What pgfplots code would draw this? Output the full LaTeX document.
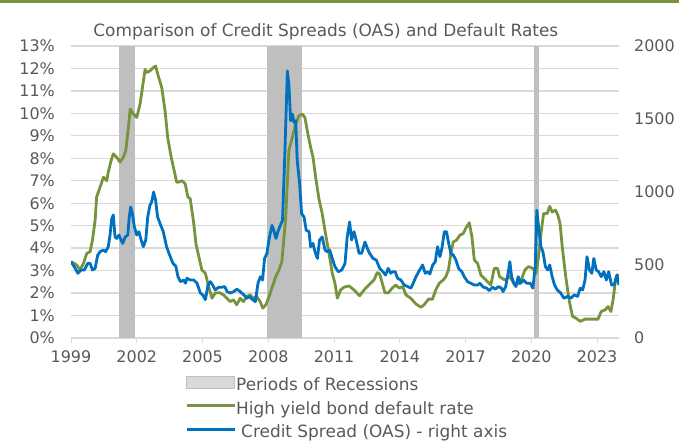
\documentclass[border=0pt]{standalone}
\usepackage{pgfplots}
\pgfplotsset{compat=1.18}
\usepackage{fontspec}
\setmainfont{DejaVu Sans}
\definecolor{hygreen}{HTML}{77933C}
\definecolor{oasblue}{HTML}{0070C0}
\definecolor{recgray}{HTML}{BFBFBF}
\definecolor{reclegend}{HTML}{D9D9D9}
\definecolor{gridgray}{HTML}{D9D9D9}
\definecolor{txtgray}{HTML}{595959}

\pgfplotstableread{
year pct
1999.00 3.40
1999.26 3.25
1999.41 3.03
1999.57 3.32
1999.72 3.77
1999.87 3.84
1999.98 4.36
2000.10 5.24
2000.17 6.28
2000.33 6.72
2000.48 7.16
2000.63 7.00
2000.70 7.39
2000.83 7.90
2000.93 8.20
2001.08 8.05
2001.24 7.83
2001.39 8.05
2001.50 8.35
2001.62 9.38
2001.70 10.19
2001.85 9.97
2002.00 9.82
2002.15 10.41
2002.26 11.15
2002.38 11.96
2002.45 11.82
2002.60 11.89
2002.76 12.04
2002.86 12.11
2002.98 11.67
2003.14 11.15
2003.29 10.12
2003.41 8.94
2003.57 8.05
2003.72 7.39
2003.82 6.94
2003.91 6.94
2004.06 7.00
2004.21 6.87
2004.33 6.28
2004.44 6.20
2004.60 5.10
2004.70 4.20
2004.85 3.54
2004.97 3.03
2005.13 2.88
2005.28 2.29
2005.43 1.77
2005.58 2.00
2005.76 2.02
2005.96 1.92
2006.11 1.77
2006.26 1.62
2006.41 1.70
2006.56 1.48
2006.72 1.77
2006.87 1.62
2007.02 1.85
2007.17 1.92
2007.32 1.77
2007.47 1.85
2007.63 1.62
2007.75 1.33
2007.89 1.48
2008.04 1.85
2008.19 2.29
2008.34 2.73
2008.49 3.03
2008.62 3.40
2008.79 5.30
2008.94 8.35
2009.10 8.94
2009.25 9.53
2009.40 9.90
2009.55 9.97
2009.67 9.82
2009.78 9.23
2009.93 8.49
2010.04 8.05
2010.16 7.16
2010.31 6.20
2010.46 5.54
2010.61 4.65
2010.77 3.77
2010.92 2.88
2011.04 2.44
2011.15 1.77
2011.30 2.14
2011.45 2.26
2011.68 2.32
2011.91 2.14
2012.17 1.88
2012.37 2.14
2012.59 2.36
2012.82 2.58
2012.97 2.91
2013.08 2.85
2013.20 2.44
2013.32 2.02
2013.47 2.00
2013.65 2.22
2013.82 2.36
2013.97 2.22
2014.13 2.29
2014.28 1.92
2014.50 1.77
2014.73 1.52
2014.96 1.37
2015.11 1.48
2015.31 1.73
2015.49 1.73
2015.64 2.14
2015.80 2.44
2015.98 2.58
2016.10 2.73
2016.22 3.03
2016.33 3.77
2016.44 4.28
2016.59 4.36
2016.74 4.58
2016.89 4.65
2017.05 4.95
2017.17 5.13
2017.29 4.50
2017.40 3.47
2017.55 3.32
2017.70 2.80
2017.85 2.66
2018.00 2.51
2018.15 2.36
2018.31 3.10
2018.46 3.10
2018.55 2.73
2018.79 2.58
2019.02 2.73
2019.25 2.36
2019.48 2.44
2019.71 3.03
2019.87 3.18
2020.07 3.10
2020.22 2.88
2020.33 3.62
2020.44 4.65
2020.56 5.54
2020.72 5.54
2020.84 5.86
2020.95 5.61
2021.10 5.69
2021.21 5.47
2021.31 5.10
2021.41 4.06
2021.57 2.73
2021.72 1.70
2021.88 0.96
2022.03 0.89
2022.23 0.74
2022.45 0.84
2022.73 0.84
2023.04 0.84
2023.19 1.18
2023.38 1.26
2023.50 1.40
2023.63 1.18
2023.73 1.70
2023.84 2.58
2023.97 2.85
}\defaultdata

\pgfplotstableread{
year bps
1999.00 523
1999.19 477
1999.31 443
1999.46 466
1999.61 466
1999.76 511
1999.87 511
1999.98 466
2000.10 477
2000.22 568
2000.33 591
2000.48 602
2000.58 591
2000.70 625
2000.78 705
2000.86 818
2000.93 842
2001.01 692
2001.08 682
2001.19 705
2001.28 671
2001.36 648
2001.47 692
2001.59 705
2001.65 818
2001.72 897
2001.80 852
2001.89 762
2002.00 705
2002.10 728
2002.20 671
2002.30 625
2002.41 671
2002.50 829
2002.60 909
2002.68 932
2002.77 1000
2002.86 943
2002.95 829
2003.06 785
2003.21 728
2003.36 625
2003.50 568
2003.65 511
2003.78 492
2003.88 420
2003.99 386
2004.14 397
2004.22 375
2004.29 409
2004.44 397
2004.60 397
2004.75 375
2004.90 308
2005.01 295
2005.13 262
2005.25 363
2005.36 386
2005.46 363
2005.58 329
2005.74 348
2005.89 348
2006.01 352
2006.12 318
2006.27 308
2006.42 318
2006.57 334
2006.72 318
2006.88 295
2007.03 272
2007.13 285
2007.26 266
2007.41 249
2007.53 375
2007.64 420
2007.74 397
2007.83 545
2007.94 580
2008.04 682
2008.17 772
2008.27 728
2008.35 682
2008.44 728
2008.55 772
2008.65 806
2008.76 1285
2008.87 1829
2008.94 1738
2009.02 1488
2009.10 1534
2009.17 1477
2009.25 1488
2009.32 1215
2009.43 1057
2009.52 852
2009.63 829
2009.73 738
2009.86 728
2009.93 625
2010.04 648
2010.13 591
2010.24 545
2010.34 671
2010.46 692
2010.59 602
2010.69 591
2010.80 602
2010.92 545
2011.04 489
2011.19 454
2011.35 466
2011.50 511
2011.60 692
2011.71 795
2011.80 671
2011.91 728
2012.01 671
2012.14 580
2012.26 580
2012.41 658
2012.52 614
2012.62 580
2012.78 545
2012.93 534
2013.08 477
2013.23 454
2013.35 431
2013.47 477
2013.58 443
2013.67 454
2013.79 454
2013.90 409
2014.05 397
2014.20 363
2014.36 352
2014.51 342
2014.61 375
2014.74 420
2014.86 454
2015.04 500
2015.16 443
2015.27 454
2015.37 438
2015.50 500
2015.62 523
2015.72 625
2015.83 557
2015.92 614
2016.03 728
2016.13 728
2016.23 648
2016.33 580
2016.44 568
2016.56 534
2016.68 477
2016.83 454
2016.94 420
2017.09 386
2017.24 375
2017.40 363
2017.55 363
2017.65 375
2017.81 348
2017.96 342
2018.08 325
2018.23 348
2018.35 334
2018.50 352
2018.63 342
2018.71 318
2018.83 352
2018.94 443
2019.02 523
2019.10 420
2019.20 375
2019.30 352
2019.40 420
2019.51 375
2019.64 397
2019.79 375
2019.95 375
2020.07 342
2020.18 489
2020.25 875
2020.33 762
2020.44 625
2020.53 591
2020.64 489
2020.75 466
2020.84 500
2020.95 420
2021.06 363
2021.18 329
2021.34 308
2021.49 272
2021.65 285
2021.80 272
2021.95 295
2022.11 285
2022.23 342
2022.34 329
2022.45 397
2022.54 557
2022.65 466
2022.76 443
2022.85 545
2022.96 466
2023.07 454
2023.19 420
2023.31 454
2023.42 397
2023.53 454
2023.66 363
2023.78 363
2023.90 431
2024.00 363
}\oasdata

\begin{document}
\begin{tikzpicture}[x=1bp,y=1bp]
\useasboundingbox (0,0) rectangle (679,441);
\fill[hygreen] (0,438) rectangle (679,441);
\begin{axis}[
  at={(71bp,103bp)}, anchor=south west,
  scale only axis, width=548bp, height=292bp,
  xmin=1999, xmax=2024, ymin=0, ymax=13,
  axis x line*=bottom, axis y line*=left,
  y axis line style={draw=none},
  x axis line style={gridgray, line width=1bp},
  tick align=outside, major tick length=5bp,
  xtick={1999,2002,2005,2008,2011,2014,2017,2020,2023},
  xticklabels={1999,2002,2005,2008,2011,2014,2017,2020,2023},
  ytick={0,1,...,13},
  yticklabels={0\%,1\%,2\%,3\%,4\%,5\%,6\%,7\%,8\%,9\%,10\%,11\%,12\%,13\%},
  /pgf/number format/assume math mode=true,
  xtick style={gridgray, line width=1bp},
  ytick style={draw=none},
  ymajorgrids, grid style={gridgray, line width=1.3bp},
  ticklabel style={font=\fontsize{16}{19}\selectfont, text=txtgray},
  yticklabel style={anchor=east, inner sep=0pt, xshift=-11bp},
  xticklabel style={anchor=north, inner sep=0pt, yshift=-7bp},
  title={Comparison of Credit Spreads (OAS) and Default Rates},
  title style={at={(axis description cs:0.465,1.0)}, anchor=base, yshift=4bp, font=\fontsize{17}{20}\selectfont, text=txtgray, inner sep=0pt},
  clip=true,
]
\addplot[draw=none, fill=recgray, forget plot] coordinates {(2001.17,13) (2001.92,13)} \closedcycle;
\addplot[draw=none, fill=recgray, forget plot] coordinates {(2007.94,13) (2009.54,13)} \closedcycle;
\addplot[draw=none, fill=recgray, forget plot] coordinates {(2020.10,13) (2020.37,13)} \closedcycle;
\addplot[hygreen, line width=2.8bp, line join=round] table[x=year, y=pct] {\defaultdata};
\end{axis}
\begin{axis}[
  at={(71bp,103bp)}, anchor=south west,
  scale only axis, width=548bp, height=292bp,
  xmin=1999, xmax=2024, ymin=0, ymax=2000,
  hide x axis,
  axis y line*=right,
  y axis line style={draw=none},
  tick align=outside, major tick length=5bp,
  ytick={0,500,1000,1500,2000},
  yticklabels={0,500,1000,1500,2000},
  /pgf/number format/assume math mode=true,
  ytick style={draw=none},
  yticklabel style={font=\fontsize{16}{19}\selectfont, text=txtgray, anchor=west, inner sep=0pt, xshift=10bp},
  legend style={at={(axis description cs:0.208,-0.129)}, anchor=north west, draw=none, fill=none,
    font=\fontsize{17}{20}\selectfont, text=txtgray, inner sep=0pt, row sep=7bp,
    nodes={inner sep=0pt, text height=12.5bp, text depth=4bp},
    /tikz/every even column/.append style={column sep=4bp}},
  legend cell align=left,
]
\addlegendimage{legend image code/.code={\filldraw[fill=reclegend, draw=recgray, line width=1bp] (0bp,-2bp) rectangle (48bp,10bp);}}
\addlegendentry{Periods of Recessions}
\addlegendimage{legend image code/.code={\draw[hygreen, line width=3bp] (0bp,4bp) -- (48bp,4bp);}}
\addlegendentry{High yield bond default rate}
\addplot[oasblue, line width=2.8bp, line join=round, legend image code/.code={\draw[oasblue, line width=3bp] (0bp,4bp) -- (48bp,4bp);}] table[x=year, y=bps] {\oasdata};
\addlegendentry{\hspace{5bp}Credit Spread (OAS) - right axis}
\end{axis}
\end{tikzpicture}
\end{document}
